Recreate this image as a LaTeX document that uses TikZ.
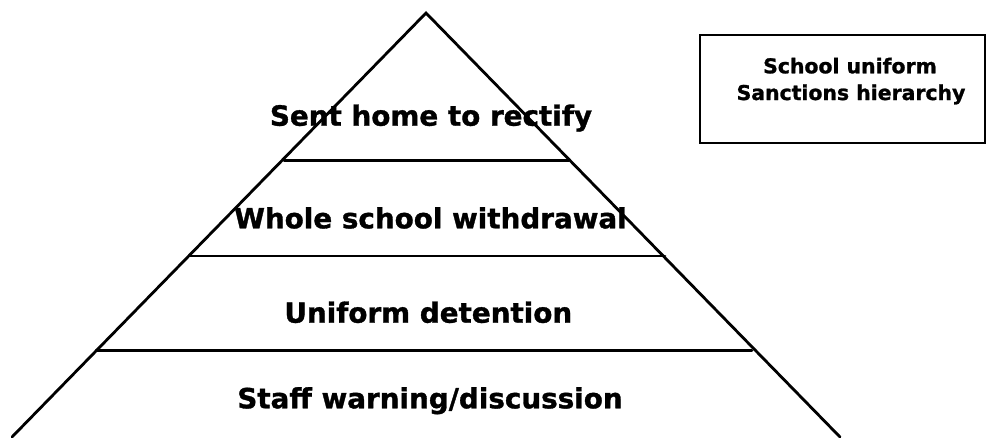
\documentclass[tikz,border=0pt]{standalone}
\usepackage{fontspec}
\setmainfont{DejaVu Sans}[BoldFeatures={FakeBold=1.2}]
\begin{document}
\begin{tikzpicture}[x=1pt,y=-1pt,
  edge/.style={line width=2.8pt,line cap=round},
  level/.style={font=\bfseries\fontsize{27.8}{32}\selectfont,inner sep=0pt,anchor=base},
  titlebox/.style={draw,line width=1.7pt,minimum width=285pt,minimum height=108pt,inner sep=0pt},
  titletext/.style={font=\bfseries\fontsize{20.4}{26.7}\selectfont,align=center,inner sep=0pt,anchor=base}]
\useasboundingbox (0,0) rectangle (990,437);
\coordinate (apex) at (426,13);
\coordinate (bl) at (12,437);
\coordinate (br) at (840,437);
\coordinate (l1a) at (284,160.5);
\coordinate (l1b) at (569,160.5);
\coordinate (l2a) at (189,256);
\coordinate (l2b) at (665,256);
\coordinate (l3a) at (96,350.5);
\coordinate (l3b) at (752,350.5);
\draw[edge] (bl) -- (apex) -- (br);
\draw[edge] (l1a) -- (l1b);
\draw[edge] (l2a) -- (l2b);
\draw[edge] (l3a) -- (l3b);
\node[level] (t1) at (431,125.7) {Sent home to rectify};
\node[level] (t2) at (430.5,228.3) {Whole school withdrawal};
\node[level] (t3) at (428.3,322.7) {Uniform detention};
\node[level] (t4) at (430,408.3) {Staff warning/discussion};
\node[titlebox] (box) at (842.5,89) {};
\node[titletext] (title1) at (850,73.3) {School uniform};
\node[titletext] (title2) at (851,100) {Sanctions hierarchy};
\end{tikzpicture}
\end{document}
